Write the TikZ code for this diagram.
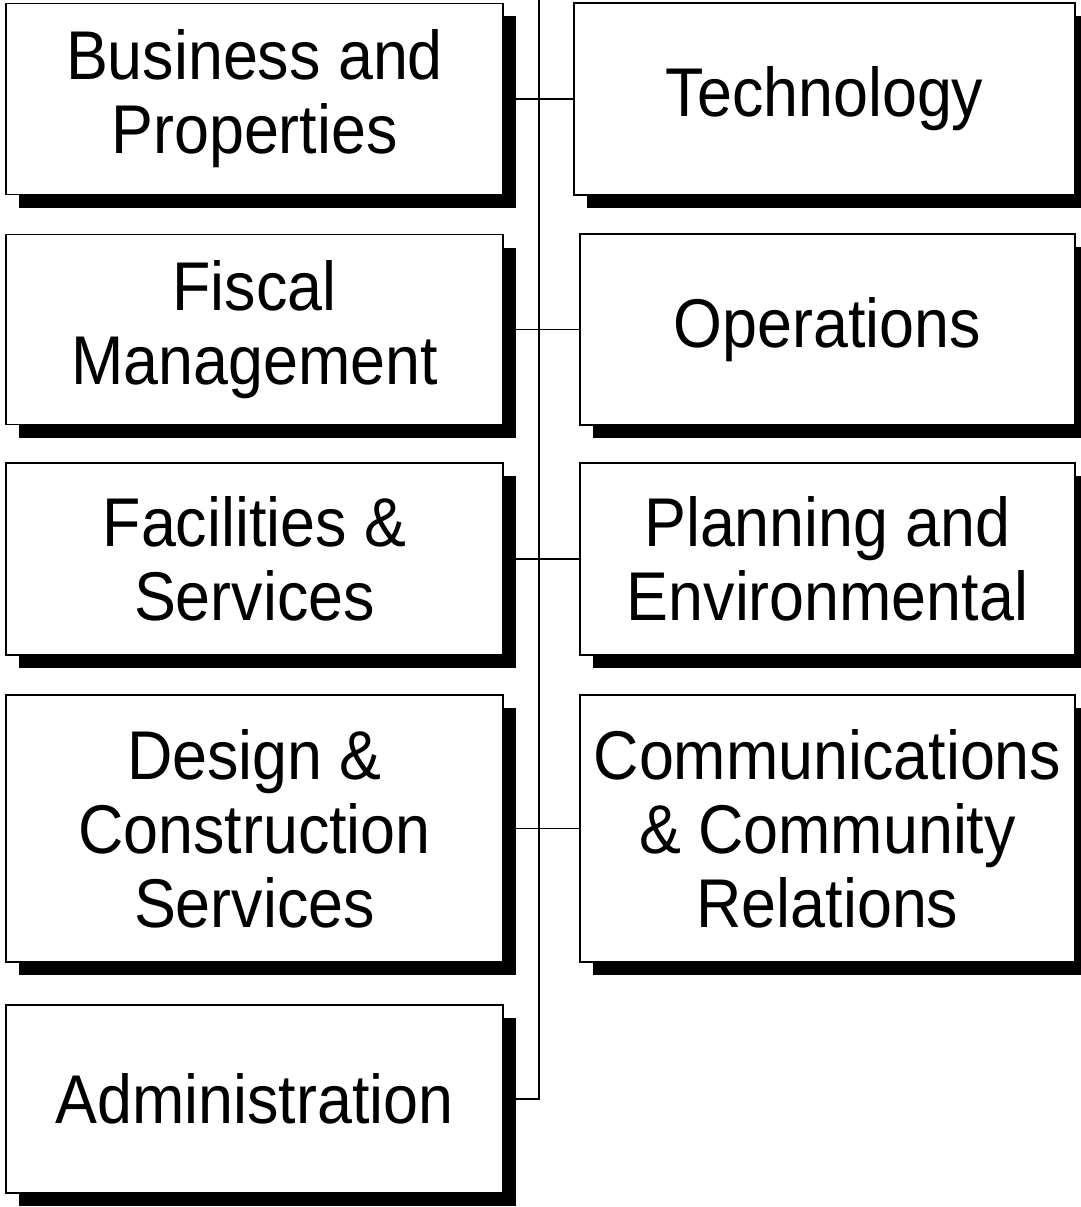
\documentclass[tikz,border=0pt]{standalone}
\usepackage{fontspec}
\setmainfont{Liberation Sans}[FakeStretch=0.91]
\usetikzlibrary{shadows,backgrounds}

\begin{document}
\begin{tikzpicture}
  [x=1pt,y=1pt,
   dept/.style={draw,fill=white,line width=1.6pt,align=center,inner sep=0pt,
     font=\fontsize{69}{74}\selectfont,
     drop shadow={shadow xshift=13pt,shadow yshift=-13pt,fill=black,opacity=1}},
   link/.style={line width=1.3pt}]
  \useasboundingbox (0,0) rectangle (1080,-1207);

  \node[dept,minimum width=497pt,minimum height=191pt] (l1) at (254.5,-99)  {Business and\\Properties};
  \node[dept,minimum width=497pt,minimum height=190pt] (l2) at (254.5,-329.5) {Fiscal\\Management};
  \node[dept,minimum width=497pt,minimum height=192pt] (l3) at (254.5,-559) {Facilities \&\\Services};
  \node[dept,minimum width=497pt,minimum height=267pt] (l4) at (254.5,-828.5) {Design \&\\Construction\\Services};
  \node[dept,minimum width=497pt,minimum height=188pt] (l5) at (254.5,-1099) {Administration};

  \node[dept,minimum width=501pt,minimum height=192pt] (r1) at (824.5,-99)  {Technology};
  \node[dept,minimum width=495pt,minimum height=191pt] (r2) at (827.5,-329.5) {Operations};
  \node[dept,minimum width=495pt,minimum height=192pt] (r3) at (827.5,-559) {Planning and\\Environmental};
  \node[dept,minimum width=495pt,minimum height=267pt] (r4) at (827.5,-828.5) {Communications\\\& Community\\Relations};

  \coordinate (top) at (539,0);

  \begin{scope}[on background layer]
    \foreach \from/\to in {l1/r1,l2/r2,l3/r3,l4/r4}
      \draw[link] (\from) -- (\to);
    \draw[link] (top) |- (l5);
  \end{scope}

\end{tikzpicture}
\end{document}
